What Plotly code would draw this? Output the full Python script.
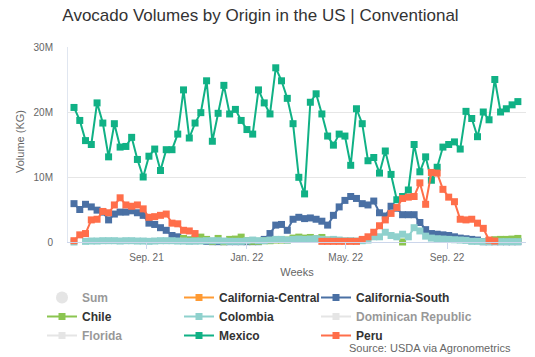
import pandas as pd
import plotly.graph_objects as go

# ---- data (volumes in millions of KG, one value per week) ----
weeks = pd.date_range("2021-06-05", periods=78, freq="7D")

mexico = [20.7, 18.7, 15.6, 15.0, 21.4, 18.3, 13.1, 18.2, 14.6, 14.7,
          16.1, 12.7, 10.0, 13.2, 14.3, 11.0, 14.2, 14.2, 16.6, 23.4,
          16.0, 18.3, 19.9, 24.8, 15.5, 19.8, 24.1, 19.7, 20.4, 18.7,
          17.3, 16.6, 23.4, 21.4, 19.7, 26.8, 24.8, 22.1, 18.2, 9.95,
          7.4, 21.5, 22.8, 19.7, 16.3, 14.9, 16.6, 16.3, 11.8, 20.5,
          18.2, 12.5, 13.0, 10.6, 14.0, 10.4, 6.5, 7.0, 8.0, 15.0,
          10.8, 13.1, 9.5, 11.5, 14.6, 15.0, 15.4, 14.3, 20.1, 19.0,
          16.2, 20.0, 18.8, 25.0, 20.0, 20.5, 21.1, 21.6]

peru = [0.2, 1.1, 1.3, 3.4, 3.5, 4.7, 4.5, 5.7, 6.8, 5.7,
        5.5, 5.7, 5.1, 3.8, 3.9, 4.1, 4.3, 2.9, 2.8, 1.8,
        1.7, 1.3, None, None, None, None, None, None, None, None,
        None, None, None, None, None, None, None, None, None, None,
        None, None, None, 0.1, 0.1, 0.1, 0.1, 0.1, 0.1, 0.1,
        0.4, 0.8, 1.5, 2.5, 3.4, 4.4, 5.3, 6.7, 6.9, 7.0,
        9.1, 5.8, 10.7, 10.6, 8.1, 6.9, 6.2, 3.5, 3.4, 3.5,
        2.9, 2.1, 0.3, 0.15, None, None, None, None]

california_south = [5.9, 5.0, 5.8, 5.4, 4.9, 4.6, 3.4, 4.3, 4.6, 4.6,
                    4.8, 4.5, 4.1, 2.9, 2.7, 2.2, 1.8, 1.0, 0.8, 0.5,
                    0.3, 0.2, 0.3, 0.1, 0.05, 0.05, 0.05, 0.05, 0.05, 0.05,
                    0.05, 0.05, 0.05, 0.4, 1.3, 2.6, 2.7, 1.8, 3.5, 3.8,
                    3.6, 3.7, 3.5, 3.2, 2.6, 4.1, 5.4, 6.4, 7.0, 6.7,
                    5.9, 5.7, 6.3, 4.5, 4.0, 5.5, 5.2, 4.2, 4.2, 4.2,
                    3.0, 1.9, 1.3, 1.2, 1.1, 1.0, 0.8, 0.6, 0.5, 0.4,
                    0.3, 0.05, 0.05, 0.05, 0.05, 0.05, 0.05, 0.05]

colombia = [0.0, None, 0.1, 0.15, 0.15, 0.2, 0.2, 0.2, 0.15, 0.2,
            0.2, 0.15, 0.15, 0.1, 0.15, 0.2, 0.2, 0.2, 0.15, 0.15,
            0.1, 0.15, 0.15, 0.2, 0.2, 0.2, 0.15, 0.1, 0.1, 0.1,
            0.2, 0.3, 0.2, 0.2, 0.3, 0.4, 0.4, 0.3, 0.4, 0.45,
            0.4, 0.45, 0.5, 0.4, 0.3, 0.4, 0.3, 0.2, 0.2, 0.15,
            0.2, 0.3, 0.8, 0.8, 1.5, 1.0, 0.8, 1.2, 0.8, 2.2,
            1.7, 0.9, 0.6, 0.5, 0.45, 0.4, 0.35, 0.3, 0.25, 0.1,
            0.1, 0.05, 0.05, 0.05, 0.05, 0.05, 0.05, 0.05]

chile = [None, None, None, None, None, None, None, None, None, None,
         None, None, None, None, None, None, None, None, None, 0.55,
         0.3, 0.55, 0.75, 0.4, 0.1, 0.55, 0.05, 0.4, 0.45, 0.75,
         0.2, 0.1, 0.1, 0.2, 0.2, 0.3, 0.3, 0.3, 0.6, 0.75,
         0.6, 0.7, 0.5, 0.7, 0.3, None, None, None, None, None,
         None, None, None, None, None, None, None, 0.0, None, None,
         None, None, None, None, None, None, None, None, None, None,
         None, None, 0.2, 0.35, 0.4, 0.4, 0.45, 0.55]

# series with no readable volume in the chart (kept for the legend)
california_central = [None]
dominican_republic = [None]
florida = [None]
total_sum = [None]

x_tick_dates = ["2021-09-01", "2022-01-01", "2022-05-01", "2022-09-01"]
x_tick_labels = ["Sep. 21", "Jan. 22", "May. 22", "Sep. 22"]
y_tick_vals = [0, 10, 20, 30]
y_tick_labels = ["0", "10M", "20M", "30M"]

FONT = "Liberation Sans, Arial, sans-serif"

# name, values, colour, shown, legend column
series = [
    ("California-Central", california_central, "#FF9A33", True, "legend2"),
    ("California-South", california_south, "#4A70A4", True, "legend3"),
    ("Chile", chile, "#8BC550", True, "legend"),
    ("Colombia", colombia, "#8FD1CD", True, "legend2"),
    ("Dominican Republic", dominican_republic, "#CCCCCC", False, "legend3"),
    ("Florida", florida, "#CCCCCC", False, "legend"),
    ("Mexico", mexico, "#10B185", True, "legend2"),
    ("Peru", peru, "#FF6E4A", True, "legend3"),
]

fig = go.Figure()
fig.add_trace(go.Scatter(
    x=list(weeks[:len(total_sum)]), y=total_sum, name="Sum", mode="markers",
    marker=dict(symbol="circle", size=12, color="#CCCCCC"),
    visible="legendonly", legend="legend"))

for name, vals, color, shown, leg in series:
    fig.add_trace(go.Scatter(
        x=list(weeks[:len(vals)]), y=vals, name=name, mode="lines+markers",
        line=dict(color=color, width=2),
        marker=dict(symbol="square", size=7, color=color),
        cliponaxis=False, legend=leg,
        visible=True if shown else "legendonly"))

legend_font = dict(family=FONT, size=12, color="#333333", weight="bold")
legend_top = (357 - 283) / 357


def legend_at(px):
    return dict(orientation="v", xref="container", yref="container",
                x=px / 535, y=legend_top, xanchor="left", yanchor="top",
                font=legend_font, bgcolor="rgba(0,0,0,0)", itemwidth=30,
                tracegroupgap=0)


fig.update_layout(
    width=535, height=357,
    margin=dict(l=68, r=9, t=47, b=115, autoexpand=False),
    paper_bgcolor="white", plot_bgcolor="white",
    font=dict(family=FONT, color="#666666"),
    title=dict(text="Avocado Volumes by Origin in the US | Conventional",
               x=260.5 / 535, xref="container", xanchor="center",
               y=1 - 15 / 357, yref="container", yanchor="middle",
               font=dict(family=FONT, size=17, color="#333333")),
    xaxis=dict(type="date", range=["2021-05-28 17:00", "2022-12-05 21:00"],
               tickvals=x_tick_dates, ticktext=x_tick_labels,
               showgrid=False, zeroline=False,
               showline=True, linecolor="#CCD6EB", linewidth=1,
               ticks="outside", ticklen=6, tickcolor="#CCD6EB",
               tickfont=dict(size=10, color="#666666"),
               title=dict(text="Weeks", standoff=6,
                          font=dict(size=11, color="#666666"))),
    yaxis=dict(range=[0, 30], tickvals=y_tick_vals, ticktext=y_tick_labels,
               showgrid=True, gridcolor="#E6E6E6", gridwidth=1,
               zeroline=False, showline=True, linecolor="#E0E6F0",
               ticks="", ticklabelstandoff=12,
               tickfont=dict(size=10, color="#666666")),
    legend=legend_at(42),
    legend2=legend_at(179),
    legend3=legend_at(316),
    annotations=[
        dict(text="Volume (KG)", xref="paper", yref="paper",
             x=(20 - 68) / 458, y=(242 - 142) / 195, textangle=-90,
             xanchor="center", yanchor="middle", showarrow=False,
             font=dict(family=FONT, size=11, color="#666666")),
        dict(text="Source: USDA via Agronometrics",
             xref="paper", yref="paper",
             x=(513 - 68) / 458, y=(242 - 348) / 195,
             xanchor="right", yanchor="middle", showarrow=False,
             font=dict(family=FONT, size=11, color="#666666")),
    ],
)

fig.write_html("out.html", config={"displayModeBar": False},
               post_script="document.body.style.margin='0';")
